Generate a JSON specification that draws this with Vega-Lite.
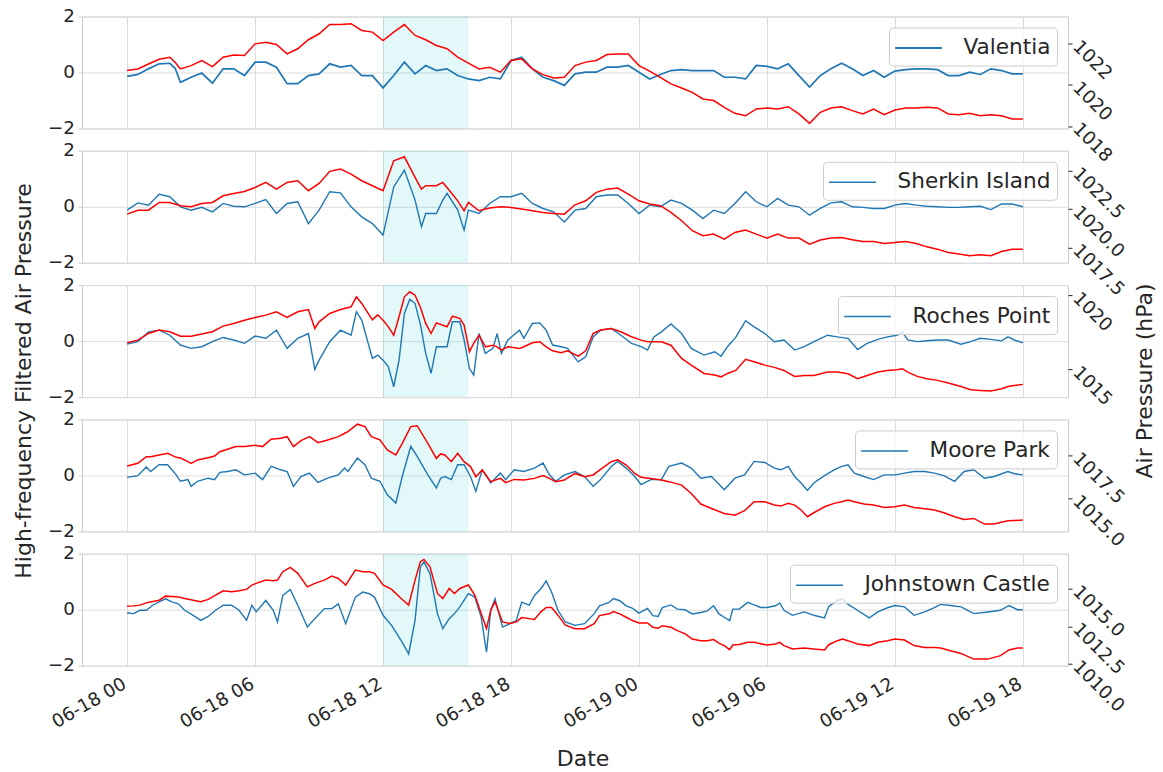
{
"$schema":"https://vega.github.io/schema/vega-lite/v6.json",
"background":"white",
"padding":{"left":11,"top":5.5,"right":5,"bottom":3},
"config":{
 "font":"DejaVu Sans",
 "view":{"stroke":"#cccccc","strokeWidth":1},
 "axis":{"labelFont":"DejaVu Sans","labelFontSize":18.3,"labelColor":"#262626","titleFont":"DejaVu Sans","titleFontSize":22,"titleColor":"#262626","titleFontWeight":"normal","gridColor":"#dddddd","gridWidth":1,"domain":false},
 "axisLeft":{"ticks":true,"tickSize":4,"tickColor":"#cccccc","tickWidth":1,"labelPadding":3.5,"grid":true,"labelOverlap":false},
 "axisRight":{"labelAngle":45,"labelAlign":"left","labelBaseline":"middle","ticks":true,"tickSize":4,"tickColor":"#262626","tickWidth":1,"labelPadding":3,"grid":true,"labelOverlap":false,"labelFlush":false},
 "axisBottom":{"grid":true,"ticks":false,"labelAngle":-30,"labelAlign":"right","labelBaseline":"top","labelPadding":9,"labelOffset":-7,"labelFlush":false,"labelOverlap":false},
 "legend":{"orient":"top-right","offset":11,"padding":6.5,"fillColor":"rgba(255,255,255,0.8)","strokeColor":"#cccccc","cornerRadius":4,"symbolType":"M-1.8,0H1.8","symbolSize":676,"symbolOffset":9,"symbolStrokeWidth":1.5,"labelFontSize":21.6,"labelColor":"#262626","labelFont":"DejaVu Sans","labelOffset":31,"labelLimit":400}
},
"datasets":{
"V":[
{"t":"2023-06-18T00:00Z","b":-0.14,"r":1020.70},{"t":"2023-06-18T00:30Z","b":-0.07,"r":1020.78},{"t":"2023-06-18T01:00Z","b":0.13,"r":1021.02},{"t":"2023-06-18T01:30Z","b":0.31,"r":1021.25},{"t":"2023-06-18T02:00Z","b":0.33,"r":1021.35},{"t":"2023-06-18T02:15Z","b":0.15,"r":1021.10},{"t":"2023-06-18T02:30Z","b":-0.35,"r":1020.78},{"t":"2023-06-18T03:00Z","b":-0.17,"r":1020.94},{"t":"2023-06-18T03:30Z","b":-0.02,"r":1021.19},{"t":"2023-06-18T04:00Z","b":-0.38,"r":1020.89},{"t":"2023-06-18T04:30Z","b":0.13,"r":1021.35},{"t":"2023-06-18T05:00Z","b":0.13,"r":1021.46},{"t":"2023-06-18T05:30Z","b":-0.11,"r":1021.43},{"t":"2023-06-18T06:00Z","b":0.37,"r":1022.00},{"t":"2023-06-18T06:30Z","b":0.37,"r":1022.08},{"t":"2023-06-18T07:00Z","b":0.19,"r":1021.97},{"t":"2023-06-18T07:30Z","b":-0.40,"r":1021.51},{"t":"2023-06-18T08:00Z","b":-0.40,"r":1021.76},{"t":"2023-06-18T08:30Z","b":-0.11,"r":1022.20},{"t":"2023-06-18T09:00Z","b":-0.05,"r":1022.49},{"t":"2023-06-18T09:30Z","b":0.31,"r":1022.94},{"t":"2023-06-18T10:00Z","b":0.19,"r":1022.94},{"t":"2023-06-18T10:30Z","b":0.25,"r":1022.98},{"t":"2023-06-18T11:00Z","b":-0.11,"r":1022.65},{"t":"2023-06-18T11:30Z","b":-0.11,"r":1022.57},{"t":"2023-06-18T12:00Z","b":-0.55,"r":1022.16},{"t":"2023-06-18T12:30Z","b":-0.11,"r":1022.57},{"t":"2023-06-18T13:00Z","b":0.37,"r":1022.94},{"t":"2023-06-18T13:30Z","b":-0.05,"r":1022.41},{"t":"2023-06-18T14:00Z","b":0.25,"r":1022.20},{"t":"2023-06-18T14:30Z","b":0.07,"r":1021.92},{"t":"2023-06-18T15:00Z","b":0.13,"r":1021.76},{"t":"2023-06-18T15:30Z","b":-0.11,"r":1021.35},{"t":"2023-06-18T16:00Z","b":-0.23,"r":1021.06},{"t":"2023-06-18T16:30Z","b":-0.29,"r":1020.78},{"t":"2023-06-18T17:00Z","b":-0.17,"r":1020.86},{"t":"2023-06-18T17:30Z","b":-0.23,"r":1020.62},{"t":"2023-06-18T18:00Z","b":0.43,"r":1021.19},{"t":"2023-06-18T18:30Z","b":0.55,"r":1021.27},{"t":"2023-06-18T19:00Z","b":0.13,"r":1020.78},{"t":"2023-06-18T19:30Z","b":-0.17,"r":1020.50},{"t":"2023-06-18T20:00Z","b":-0.29,"r":1020.34},{"t":"2023-06-18T20:30Z","b":-0.46,"r":1020.37},{"t":"2023-06-18T21:00Z","b":-0.05,"r":1020.94},{"t":"2023-06-18T21:30Z","b":0.01,"r":1021.11},{"t":"2023-06-18T22:00Z","b":0.01,"r":1021.19},{"t":"2023-06-18T22:30Z","b":0.19,"r":1021.48},{"t":"2023-06-18T23:00Z","b":0.19,"r":1021.51},{"t":"2023-06-18T23:30Z","b":0.25,"r":1021.51},
{"t":"2023-06-19T00:00Z","b":0.01,"r":1020.94},{"t":"2023-06-19T00:30Z","b":-0.23,"r":1020.67},{"t":"2023-06-19T01:00Z","b":-0.07,"r":1020.37},{"t":"2023-06-19T01:30Z","b":0.07,"r":1020.05},{"t":"2023-06-19T02:00Z","b":0.10,"r":1019.85},{"t":"2023-06-19T02:30Z","b":0.07,"r":1019.64},{"t":"2023-06-19T03:00Z","b":0.07,"r":1019.32},{"t":"2023-06-19T03:30Z","b":0.07,"r":1019.24},{"t":"2023-06-19T04:00Z","b":-0.17,"r":1018.91},{"t":"2023-06-19T04:30Z","b":-0.17,"r":1018.62},{"t":"2023-06-19T05:00Z","b":-0.23,"r":1018.50},{"t":"2023-06-19T05:30Z","b":0.25,"r":1018.83},{"t":"2023-06-19T06:00Z","b":0.22,"r":1018.88},{"t":"2023-06-19T06:30Z","b":0.13,"r":1018.83},{"t":"2023-06-19T07:00Z","b":0.31,"r":1018.94},{"t":"2023-06-19T07:30Z","b":-0.11,"r":1018.59},{"t":"2023-06-19T08:00Z","b":-0.52,"r":1018.13},{"t":"2023-06-19T08:30Z","b":-0.11,"r":1018.67},{"t":"2023-06-19T09:00Z","b":0.13,"r":1018.88},{"t":"2023-06-19T09:30Z","b":0.33,"r":1018.94},{"t":"2023-06-19T10:00Z","b":0.13,"r":1018.75},{"t":"2023-06-19T10:30Z","b":-0.11,"r":1018.59},{"t":"2023-06-19T11:00Z","b":0.07,"r":1018.83},{"t":"2023-06-19T11:30Z","b":-0.17,"r":1018.55},{"t":"2023-06-19T12:00Z","b":0.05,"r":1018.78},{"t":"2023-06-19T12:30Z","b":0.10,"r":1018.88},{"t":"2023-06-19T13:00Z","b":0.13,"r":1018.88},{"t":"2023-06-19T13:30Z","b":0.13,"r":1018.91},{"t":"2023-06-19T14:00Z","b":0.10,"r":1018.88},{"t":"2023-06-19T14:30Z","b":-0.11,"r":1018.59},{"t":"2023-06-19T15:00Z","b":-0.11,"r":1018.55},{"t":"2023-06-19T15:30Z","b":0.01,"r":1018.62},{"t":"2023-06-19T16:00Z","b":-0.07,"r":1018.50},{"t":"2023-06-19T16:30Z","b":0.13,"r":1018.55},{"t":"2023-06-19T17:00Z","b":0.07,"r":1018.50},{"t":"2023-06-19T17:30Z","b":-0.05,"r":1018.34},{"t":"2023-06-19T18:00Z","b":-0.05,"r":1018.34}],
"S":[
{"t":"2023-06-18T00:00Z","b":-0.12,"r":1019.67},{"t":"2023-06-18T00:30Z","b":0.14,"r":1019.93},{"t":"2023-06-18T01:00Z","b":0.06,"r":1019.93},{"t":"2023-06-18T01:30Z","b":0.45,"r":1020.43},{"t":"2023-06-18T02:00Z","b":0.36,"r":1020.43},{"t":"2023-06-18T02:30Z","b":0.00,"r":1020.22},{"t":"2023-06-18T03:00Z","b":-0.12,"r":1020.15},{"t":"2023-06-18T03:30Z","b":-0.02,"r":1020.37},{"t":"2023-06-18T04:00Z","b":-0.18,"r":1020.43},{"t":"2023-06-18T04:30Z","b":0.12,"r":1020.87},{"t":"2023-06-18T05:00Z","b":0.02,"r":1021.02},{"t":"2023-06-18T05:30Z","b":0.00,"r":1021.15},{"t":"2023-06-18T06:00Z","b":0.12,"r":1021.41},{"t":"2023-06-18T06:30Z","b":0.26,"r":1021.74},{"t":"2023-06-18T07:00Z","b":-0.24,"r":1021.30},{"t":"2023-06-18T07:30Z","b":0.12,"r":1021.74},{"t":"2023-06-18T08:00Z","b":0.18,"r":1021.85},{"t":"2023-06-18T08:30Z","b":-0.60,"r":1021.20},{"t":"2023-06-18T09:00Z","b":-0.12,"r":1021.67},{"t":"2023-06-18T09:30Z","b":0.54,"r":1022.46},{"t":"2023-06-18T10:00Z","b":0.50,"r":1022.61},{"t":"2023-06-18T10:30Z","b":0.00,"r":1022.28},{"t":"2023-06-18T11:00Z","b":-0.36,"r":1021.85},{"t":"2023-06-18T11:30Z","b":-0.60,"r":1021.52},{"t":"2023-06-18T12:00Z","b":-1.01,"r":1021.20},{"t":"2023-06-18T12:30Z","b":0.71,"r":1023.15},{"t":"2023-06-18T13:00Z","b":1.31,"r":1023.41},{"t":"2023-06-18T13:30Z","b":0.24,"r":1022.07},{"t":"2023-06-18T13:48Z","b":-0.71,"r":1021.30},{"t":"2023-06-18T14:00Z","b":-0.24,"r":1021.52},{"t":"2023-06-18T14:30Z","b":-0.24,"r":1021.52},{"t":"2023-06-18T14:48Z","b":0.24,"r":1021.74},{"t":"2023-06-18T15:00Z","b":0.48,"r":1021.41},{"t":"2023-06-18T15:30Z","b":-0.12,"r":1020.54},{"t":"2023-06-18T15:48Z","b":-0.83,"r":1019.89},{"t":"2023-06-18T16:00Z","b":-0.12,"r":1020.43},{"t":"2023-06-18T16:30Z","b":-0.24,"r":1019.89},{"t":"2023-06-18T17:00Z","b":0.12,"r":1020.07},{"t":"2023-06-18T17:30Z","b":0.36,"r":1020.15},{"t":"2023-06-18T18:00Z","b":0.36,"r":1020.11},{"t":"2023-06-18T18:30Z","b":0.48,"r":1020.00},{"t":"2023-06-18T19:00Z","b":0.12,"r":1019.89},{"t":"2023-06-18T19:30Z","b":-0.06,"r":1019.78},{"t":"2023-06-18T20:00Z","b":-0.18,"r":1019.72},{"t":"2023-06-18T20:30Z","b":-0.54,"r":1019.67},{"t":"2023-06-18T21:00Z","b":-0.12,"r":1020.28},{"t":"2023-06-18T21:30Z","b":-0.06,"r":1020.54},{"t":"2023-06-18T22:00Z","b":0.36,"r":1021.09},{"t":"2023-06-18T22:30Z","b":0.42,"r":1021.30},{"t":"2023-06-18T23:00Z","b":0.42,"r":1021.37},{"t":"2023-06-18T23:30Z","b":0.12,"r":1020.98},
{"t":"2023-06-19T00:00Z","b":-0.24,"r":1020.54},{"t":"2023-06-19T00:30Z","b":0.06,"r":1020.33},{"t":"2023-06-19T01:00Z","b":0.00,"r":1020.22},{"t":"2023-06-19T01:30Z","b":0.24,"r":1019.78},{"t":"2023-06-19T02:00Z","b":0.12,"r":1019.24},{"t":"2023-06-19T02:30Z","b":-0.12,"r":1018.59},{"t":"2023-06-19T03:00Z","b":-0.42,"r":1018.26},{"t":"2023-06-19T03:30Z","b":-0.12,"r":1018.37},{"t":"2023-06-19T04:00Z","b":-0.24,"r":1018.04},{"t":"2023-06-19T04:30Z","b":0.12,"r":1018.48},{"t":"2023-06-19T05:00Z","b":0.54,"r":1018.63},{"t":"2023-06-19T05:30Z","b":0.18,"r":1018.37},{"t":"2023-06-19T06:00Z","b":0.00,"r":1018.11},{"t":"2023-06-19T06:30Z","b":0.30,"r":1018.37},{"t":"2023-06-19T07:00Z","b":0.06,"r":1018.11},{"t":"2023-06-19T07:30Z","b":0.00,"r":1018.11},{"t":"2023-06-19T08:00Z","b":-0.30,"r":1017.72},{"t":"2023-06-19T08:30Z","b":-0.06,"r":1017.98},{"t":"2023-06-19T09:00Z","b":0.14,"r":1018.11},{"t":"2023-06-19T09:30Z","b":0.18,"r":1018.15},{"t":"2023-06-19T10:00Z","b":0.00,"r":1018.00},{"t":"2023-06-19T10:30Z","b":-0.02,"r":1017.89},{"t":"2023-06-19T11:00Z","b":-0.06,"r":1017.89},{"t":"2023-06-19T11:30Z","b":-0.06,"r":1017.76},{"t":"2023-06-19T12:00Z","b":0.06,"r":1017.83},{"t":"2023-06-19T12:30Z","b":0.12,"r":1017.89},{"t":"2023-06-19T13:00Z","b":0.06,"r":1017.76},{"t":"2023-06-19T13:30Z","b":0.02,"r":1017.54},{"t":"2023-06-19T14:00Z","b":0.00,"r":1017.39},{"t":"2023-06-19T14:30Z","b":-0.02,"r":1017.17},{"t":"2023-06-19T15:00Z","b":-0.02,"r":1017.07},{"t":"2023-06-19T15:30Z","b":0.00,"r":1016.96},{"t":"2023-06-19T16:00Z","b":0.02,"r":1017.02},{"t":"2023-06-19T16:30Z","b":-0.10,"r":1016.96},{"t":"2023-06-19T17:00Z","b":0.10,"r":1017.24},{"t":"2023-06-19T17:30Z","b":0.10,"r":1017.39},{"t":"2023-06-19T18:00Z","b":0.00,"r":1017.39}],
"R":[
{"t":"2023-06-18T00:00Z","b":-0.11,"r":1016.80},{"t":"2023-06-18T00:30Z","b":-0.02,"r":1016.98},{"t":"2023-06-18T01:00Z","b":0.33,"r":1017.43},{"t":"2023-06-18T01:30Z","b":0.39,"r":1017.66},{"t":"2023-06-18T02:00Z","b":0.21,"r":1017.55},{"t":"2023-06-18T02:30Z","b":-0.14,"r":1017.25},{"t":"2023-06-18T03:00Z","b":-0.26,"r":1017.25},{"t":"2023-06-18T03:30Z","b":-0.20,"r":1017.39},{"t":"2023-06-18T04:00Z","b":-0.02,"r":1017.55},{"t":"2023-06-18T04:30Z","b":0.13,"r":1017.93},{"t":"2023-06-18T05:00Z","b":0.04,"r":1018.11},{"t":"2023-06-18T05:30Z","b":-0.08,"r":1018.33},{"t":"2023-06-18T06:00Z","b":0.18,"r":1018.51},{"t":"2023-06-18T06:30Z","b":0.10,"r":1018.67},{"t":"2023-06-18T07:00Z","b":0.39,"r":1018.90},{"t":"2023-06-18T07:30Z","b":-0.26,"r":1018.51},{"t":"2023-06-18T08:00Z","b":0.10,"r":1018.90},{"t":"2023-06-18T08:30Z","b":0.27,"r":1019.05},{"t":"2023-06-18T08:48Z","b":-1.01,"r":1017.77},{"t":"2023-06-18T09:00Z","b":-0.68,"r":1018.22},{"t":"2023-06-18T09:30Z","b":-0.02,"r":1018.78},{"t":"2023-06-18T10:00Z","b":0.39,"r":1019.05},{"t":"2023-06-18T10:30Z","b":0.21,"r":1019.23},{"t":"2023-06-18T10:45Z","b":1.05,"r":1019.91},{"t":"2023-06-18T11:00Z","b":0.75,"r":1019.46},{"t":"2023-06-18T11:30Z","b":-0.62,"r":1018.35},{"t":"2023-06-18T11:45Z","b":-0.50,"r":1018.69},{"t":"2023-06-18T12:00Z","b":-0.68,"r":1018.33},{"t":"2023-06-18T12:15Z","b":-0.92,"r":1017.88},{"t":"2023-06-18T12:30Z","b":-1.63,"r":1017.32},{"t":"2023-06-18T12:45Z","b":-0.68,"r":1018.56},{"t":"2023-06-18T13:00Z","b":0.99,"r":1019.91},{"t":"2023-06-18T13:15Z","b":1.49,"r":1020.25},{"t":"2023-06-18T13:30Z","b":1.35,"r":1020.02},{"t":"2023-06-18T13:45Z","b":0.60,"r":1019.20},{"t":"2023-06-18T14:00Z","b":-0.44,"r":1018.11},{"t":"2023-06-18T14:15Z","b":-1.15,"r":1017.43},{"t":"2023-06-18T14:30Z","b":-0.20,"r":1018.15},{"t":"2023-06-18T15:00Z","b":-0.20,"r":1017.88},{"t":"2023-06-18T15:15Z","b":0.69,"r":1018.60},{"t":"2023-06-18T15:36Z","b":0.69,"r":1018.45},{"t":"2023-06-18T15:48Z","b":0.04,"r":1018.00},{"t":"2023-06-18T16:03Z","b":-0.98,"r":1016.19},{"t":"2023-06-18T16:15Z","b":-1.21,"r":1016.76},{"t":"2023-06-18T16:30Z","b":0.27,"r":1017.32},{"t":"2023-06-18T16:48Z","b":-0.44,"r":1016.53},{"t":"2023-06-18T17:09Z","b":-0.26,"r":1016.64},{"t":"2023-06-18T17:21Z","b":0.27,"r":1016.53},{"t":"2023-06-18T17:33Z","b":-0.44,"r":1016.31},{"t":"2023-06-18T17:51Z","b":0.04,"r":1016.53},{"t":"2023-06-18T18:24Z","b":0.39,"r":1016.42},{"t":"2023-06-18T18:36Z","b":0.10,"r":1016.53},{"t":"2023-06-18T19:00Z","b":0.63,"r":1016.80},{"t":"2023-06-18T19:21Z","b":0.65,"r":1016.87},{"t":"2023-06-18T19:39Z","b":0.39,"r":1016.53},{"t":"2023-06-18T19:57Z","b":-0.14,"r":1016.26},{"t":"2023-06-18T20:21Z","b":-0.20,"r":1016.13},{"t":"2023-06-18T20:39Z","b":-0.26,"r":1016.26},{"t":"2023-06-18T21:09Z","b":-0.74,"r":1015.90},{"t":"2023-06-18T21:30Z","b":-0.56,"r":1016.26},{"t":"2023-06-18T21:51Z","b":0.15,"r":1017.43},{"t":"2023-06-18T22:12Z","b":0.39,"r":1017.66},{"t":"2023-06-18T22:42Z","b":0.45,"r":1017.77},{"t":"2023-06-18T23:09Z","b":0.21,"r":1017.55},{"t":"2023-06-18T23:39Z","b":-0.08,"r":1017.21},
{"t":"2023-06-19T00:06Z","b":-0.20,"r":1016.98},{"t":"2023-06-19T00:24Z","b":-0.32,"r":1016.87},{"t":"2023-06-19T00:42Z","b":0.15,"r":1016.87},{"t":"2023-06-19T01:03Z","b":0.33,"r":1016.87},{"t":"2023-06-19T01:30Z","b":0.61,"r":1016.64},{"t":"2023-06-19T02:00Z","b":0.27,"r":1015.74},{"t":"2023-06-19T02:27Z","b":-0.26,"r":1015.29},{"t":"2023-06-19T03:03Z","b":-0.50,"r":1014.73},{"t":"2023-06-19T03:33Z","b":-0.38,"r":1014.62},{"t":"2023-06-19T03:51Z","b":-0.54,"r":1014.50},{"t":"2023-06-19T04:09Z","b":-0.20,"r":1014.73},{"t":"2023-06-19T04:33Z","b":0.15,"r":1014.95},{"t":"2023-06-19T05:00Z","b":0.73,"r":1015.68},{"t":"2023-06-19T05:24Z","b":0.51,"r":1015.52},{"t":"2023-06-19T05:54Z","b":0.27,"r":1015.29},{"t":"2023-06-19T06:21Z","b":-0.02,"r":1015.14},{"t":"2023-06-19T06:48Z","b":0.04,"r":1014.93},{"t":"2023-06-19T07:18Z","b":-0.32,"r":1014.53},{"t":"2023-06-19T07:45Z","b":-0.20,"r":1014.59},{"t":"2023-06-19T08:12Z","b":-0.02,"r":1014.59},{"t":"2023-06-19T08:51Z","b":0.21,"r":1014.82},{"t":"2023-06-19T09:18Z","b":0.15,"r":1014.82},{"t":"2023-06-19T09:48Z","b":0.10,"r":1014.71},{"t":"2023-06-19T10:15Z","b":-0.30,"r":1014.37},{"t":"2023-06-19T10:42Z","b":-0.08,"r":1014.59},{"t":"2023-06-19T11:12Z","b":0.06,"r":1014.82},{"t":"2023-06-19T11:39Z","b":0.15,"r":1014.93},{"t":"2023-06-19T12:06Z","b":0.21,"r":1014.98},{"t":"2023-06-19T12:21Z","b":0.33,"r":1015.05},{"t":"2023-06-19T12:36Z","b":0.04,"r":1014.82},{"t":"2023-06-19T13:03Z","b":-0.02,"r":1014.53},{"t":"2023-06-19T13:30Z","b":0.01,"r":1014.37},{"t":"2023-06-19T14:00Z","b":0.04,"r":1014.26},{"t":"2023-06-19T14:30Z","b":0.04,"r":1014.08},{"t":"2023-06-19T15:06Z","b":-0.11,"r":1013.85},{"t":"2023-06-19T15:33Z","b":-0.02,"r":1013.63},{"t":"2023-06-19T16:00Z","b":0.10,"r":1013.58},{"t":"2023-06-19T16:30Z","b":0.06,"r":1013.54},{"t":"2023-06-19T17:00Z","b":0.01,"r":1013.69},{"t":"2023-06-19T17:18Z","b":0.15,"r":1013.85},{"t":"2023-06-19T17:36Z","b":0.04,"r":1013.92},{"t":"2023-06-19T18:00Z","b":-0.06,"r":1013.99}],
"M":[
{"t":"2023-06-18T00:00Z","b":-0.07,"r":1016.89},{"t":"2023-06-18T00:30Z","b":-0.01,"r":1017.05},{"t":"2023-06-18T00:54Z","b":0.30,"r":1017.44},{"t":"2023-06-18T01:06Z","b":0.14,"r":1017.44},{"t":"2023-06-18T01:30Z","b":0.38,"r":1017.54},{"t":"2023-06-18T01:54Z","b":0.38,"r":1017.64},{"t":"2023-06-18T02:18Z","b":0.02,"r":1017.40},{"t":"2023-06-18T02:30Z","b":-0.21,"r":1017.36},{"t":"2023-06-18T02:51Z","b":-0.15,"r":1017.15},{"t":"2023-06-18T03:00Z","b":-0.39,"r":1017.05},{"t":"2023-06-18T03:18Z","b":-0.21,"r":1017.25},{"t":"2023-06-18T03:48Z","b":-0.10,"r":1017.38},{"t":"2023-06-18T04:06Z","b":-0.15,"r":1017.48},{"t":"2023-06-18T04:21Z","b":0.11,"r":1017.73},{"t":"2023-06-18T04:42Z","b":0.14,"r":1017.87},{"t":"2023-06-18T05:06Z","b":0.20,"r":1018.03},{"t":"2023-06-18T05:30Z","b":0.02,"r":1018.03},{"t":"2023-06-18T06:00Z","b":0.08,"r":1018.11},{"t":"2023-06-18T06:21Z","b":-0.15,"r":1018.03},{"t":"2023-06-18T06:45Z","b":0.32,"r":1018.46},{"t":"2023-06-18T07:12Z","b":0.20,"r":1018.52},{"t":"2023-06-18T07:30Z","b":0.14,"r":1018.61},{"t":"2023-06-18T07:48Z","b":-0.39,"r":1018.03},{"t":"2023-06-18T08:09Z","b":-0.04,"r":1018.38},{"t":"2023-06-18T08:33Z","b":0.08,"r":1018.61},{"t":"2023-06-18T08:57Z","b":-0.25,"r":1018.26},{"t":"2023-06-18T09:24Z","b":-0.10,"r":1018.42},{"t":"2023-06-18T09:54Z","b":0.02,"r":1018.61},{"t":"2023-06-18T10:12Z","b":0.26,"r":1018.81},{"t":"2023-06-18T10:21Z","b":0.14,"r":1018.91},{"t":"2023-06-18T10:48Z","b":0.62,"r":1019.34},{"t":"2023-06-18T11:09Z","b":0.38,"r":1019.20},{"t":"2023-06-18T11:27Z","b":-0.10,"r":1018.61},{"t":"2023-06-18T11:51Z","b":-0.21,"r":1018.42},{"t":"2023-06-18T12:12Z","b":-0.69,"r":1017.83},{"t":"2023-06-18T12:36Z","b":-0.99,"r":1017.54},{"t":"2023-06-18T12:54Z","b":-0.04,"r":1018.22},{"t":"2023-06-18T13:18Z","b":1.04,"r":1019.20},{"t":"2023-06-18T13:36Z","b":0.68,"r":1019.25},{"t":"2023-06-18T14:06Z","b":0.02,"r":1018.22},{"t":"2023-06-18T14:30Z","b":-0.45,"r":1017.34},{"t":"2023-06-18T14:42Z","b":-0.10,"r":1017.60},{"t":"2023-06-18T14:54Z","b":-0.04,"r":1017.54},{"t":"2023-06-18T15:12Z","b":-0.15,"r":1017.15},{"t":"2023-06-18T15:30Z","b":0.38,"r":1017.64},{"t":"2023-06-18T15:48Z","b":0.38,"r":1017.15},{"t":"2023-06-18T16:06Z","b":-0.04,"r":1016.86},{"t":"2023-06-18T16:21Z","b":-0.57,"r":1016.27},{"t":"2023-06-18T16:39Z","b":0.20,"r":1016.66},{"t":"2023-06-18T17:03Z","b":-0.27,"r":1015.98},{"t":"2023-06-18T17:30Z","b":0.08,"r":1016.17},{"t":"2023-06-18T17:45Z","b":-0.15,"r":1015.92},{"t":"2023-06-18T18:09Z","b":0.20,"r":1016.11},{"t":"2023-06-18T18:36Z","b":0.14,"r":1016.07},{"t":"2023-06-18T19:06Z","b":0.26,"r":1016.17},{"t":"2023-06-18T19:30Z","b":0.44,"r":1016.33},{"t":"2023-06-18T19:48Z","b":0.02,"r":1016.17},{"t":"2023-06-18T20:06Z","b":-0.21,"r":1015.98},{"t":"2023-06-18T20:30Z","b":0.02,"r":1016.07},{"t":"2023-06-18T21:00Z","b":0.14,"r":1016.46},{"t":"2023-06-18T21:27Z","b":-0.04,"r":1016.27},{"t":"2023-06-18T21:51Z","b":-0.39,"r":1016.37},{"t":"2023-06-18T22:12Z","b":-0.15,"r":1016.70},{"t":"2023-06-18T22:42Z","b":0.32,"r":1017.15},{"t":"2023-06-18T23:00Z","b":0.50,"r":1017.25},{"t":"2023-06-18T23:24Z","b":0.26,"r":1016.95},{"t":"2023-06-18T23:48Z","b":-0.04,"r":1016.46},
{"t":"2023-06-19T00:06Z","b":-0.33,"r":1016.23},{"t":"2023-06-19T00:33Z","b":-0.15,"r":1016.17},{"t":"2023-06-19T01:03Z","b":-0.15,"r":1016.07},{"t":"2023-06-19T01:24Z","b":0.32,"r":1015.98},{"t":"2023-06-19T02:00Z","b":0.44,"r":1015.78},{"t":"2023-06-19T02:27Z","b":0.26,"r":1015.29},{"t":"2023-06-19T02:54Z","b":-0.10,"r":1014.67},{"t":"2023-06-19T03:24Z","b":-0.04,"r":1014.41},{"t":"2023-06-19T04:00Z","b":-0.51,"r":1014.12},{"t":"2023-06-19T04:30Z","b":-0.10,"r":1014.02},{"t":"2023-06-19T04:57Z","b":0.02,"r":1014.28},{"t":"2023-06-19T05:24Z","b":0.50,"r":1014.80},{"t":"2023-06-19T05:54Z","b":0.46,"r":1014.80},{"t":"2023-06-19T06:21Z","b":0.26,"r":1014.61},{"t":"2023-06-19T06:39Z","b":0.20,"r":1014.55},{"t":"2023-06-19T07:00Z","b":0.32,"r":1014.71},{"t":"2023-06-19T07:18Z","b":-0.04,"r":1014.61},{"t":"2023-06-19T07:36Z","b":-0.27,"r":1014.32},{"t":"2023-06-19T07:54Z","b":-0.54,"r":1013.93},{"t":"2023-06-19T08:12Z","b":-0.27,"r":1014.16},{"t":"2023-06-19T08:42Z","b":-0.01,"r":1014.51},{"t":"2023-06-19T09:09Z","b":0.20,"r":1014.71},{"t":"2023-06-19T09:30Z","b":0.32,"r":1014.80},{"t":"2023-06-19T09:48Z","b":0.38,"r":1014.90},{"t":"2023-06-19T10:06Z","b":0.08,"r":1014.80},{"t":"2023-06-19T10:33Z","b":-0.04,"r":1014.67},{"t":"2023-06-19T11:00Z","b":-0.15,"r":1014.61},{"t":"2023-06-19T11:30Z","b":0.02,"r":1014.47},{"t":"2023-06-19T12:00Z","b":0.02,"r":1014.51},{"t":"2023-06-19T12:27Z","b":0.08,"r":1014.61},{"t":"2023-06-19T12:54Z","b":0.14,"r":1014.47},{"t":"2023-06-19T13:24Z","b":0.14,"r":1014.39},{"t":"2023-06-19T13:51Z","b":0.08,"r":1014.32},{"t":"2023-06-19T14:18Z","b":-0.01,"r":1014.16},{"t":"2023-06-19T14:48Z","b":-0.21,"r":1013.93},{"t":"2023-06-19T15:15Z","b":0.14,"r":1013.77},{"t":"2023-06-19T15:42Z","b":0.20,"r":1013.83},{"t":"2023-06-19T16:12Z","b":-0.10,"r":1013.50},{"t":"2023-06-19T16:39Z","b":-0.04,"r":1013.50},{"t":"2023-06-19T17:18Z","b":0.14,"r":1013.69},{"t":"2023-06-19T17:36Z","b":0.06,"r":1013.71},{"t":"2023-06-19T18:00Z","b":0.02,"r":1013.73}],
"J":[
{"t":"2023-06-18T00:00Z","b":-0.12,"r":1013.84},{"t":"2023-06-18T00:18Z","b":-0.14,"r":1013.86},{"t":"2023-06-18T00:36Z","b":-0.02,"r":1013.91},{"t":"2023-06-18T00:54Z","b":-0.02,"r":1014.06},{"t":"2023-06-18T01:12Z","b":0.16,"r":1014.15},{"t":"2023-06-18T01:30Z","b":0.28,"r":1014.24},{"t":"2023-06-18T01:48Z","b":0.39,"r":1014.51},{"t":"2023-06-18T02:06Z","b":0.28,"r":1014.49},{"t":"2023-06-18T02:24Z","b":0.21,"r":1014.46},{"t":"2023-06-18T02:42Z","b":-0.02,"r":1014.35},{"t":"2023-06-18T03:06Z","b":-0.20,"r":1014.24},{"t":"2023-06-18T03:27Z","b":-0.38,"r":1014.13},{"t":"2023-06-18T03:48Z","b":-0.24,"r":1014.29},{"t":"2023-06-18T04:09Z","b":-0.02,"r":1014.58},{"t":"2023-06-18T04:30Z","b":0.16,"r":1014.87},{"t":"2023-06-18T04:54Z","b":0.16,"r":1014.80},{"t":"2023-06-18T05:15Z","b":-0.02,"r":1014.87},{"t":"2023-06-18T05:36Z","b":-0.38,"r":1014.96},{"t":"2023-06-18T05:51Z","b":0.16,"r":1015.25},{"t":"2023-06-18T06:03Z","b":-0.08,"r":1015.36},{"t":"2023-06-18T06:30Z","b":0.33,"r":1015.58},{"t":"2023-06-18T06:51Z","b":-0.02,"r":1015.54},{"t":"2023-06-18T07:03Z","b":-0.44,"r":1015.58},{"t":"2023-06-18T07:18Z","b":0.51,"r":1016.14},{"t":"2023-06-18T07:39Z","b":0.72,"r":1016.43},{"t":"2023-06-18T08:00Z","b":0.16,"r":1016.03},{"t":"2023-06-18T08:27Z","b":-0.62,"r":1015.13},{"t":"2023-06-18T08:48Z","b":-0.32,"r":1015.36},{"t":"2023-06-18T09:15Z","b":0.04,"r":1015.58},{"t":"2023-06-18T09:36Z","b":0.04,"r":1015.85},{"t":"2023-06-18T09:54Z","b":0.21,"r":1015.69},{"t":"2023-06-18T10:15Z","b":-0.50,"r":1015.25},{"t":"2023-06-18T10:42Z","b":0.45,"r":1016.25},{"t":"2023-06-18T11:03Z","b":0.63,"r":1016.14},{"t":"2023-06-18T11:21Z","b":0.57,"r":1016.14},{"t":"2023-06-18T11:36Z","b":0.45,"r":1016.03},{"t":"2023-06-18T12:00Z","b":-0.20,"r":1015.25},{"t":"2023-06-18T12:24Z","b":-0.56,"r":1014.96},{"t":"2023-06-18T12:51Z","b":-1.10,"r":1014.35},{"t":"2023-06-18T13:12Z","b":-1.58,"r":1013.91},{"t":"2023-06-18T13:30Z","b":-0.38,"r":1015.58},{"t":"2023-06-18T13:45Z","b":1.53,"r":1016.81},{"t":"2023-06-18T13:55Z","b":1.71,"r":1016.96},{"t":"2023-06-18T14:12Z","b":1.29,"r":1016.47},{"t":"2023-06-18T14:33Z","b":-0.14,"r":1014.69},{"t":"2023-06-18T14:48Z","b":-0.68,"r":1014.35},{"t":"2023-06-18T15:06Z","b":-0.32,"r":1015.02},{"t":"2023-06-18T15:21Z","b":-0.14,"r":1014.69},{"t":"2023-06-18T15:36Z","b":0.10,"r":1015.02},{"t":"2023-06-18T16:00Z","b":0.57,"r":1015.25},{"t":"2023-06-18T16:18Z","b":0.45,"r":1014.58},{"t":"2023-06-18T16:36Z","b":-0.26,"r":1013.35},{"t":"2023-06-18T16:51Z","b":-1.52,"r":1012.34},{"t":"2023-06-18T17:03Z","b":-0.02,"r":1013.57},{"t":"2023-06-18T17:15Z","b":0.39,"r":1014.13},{"t":"2023-06-18T17:36Z","b":-0.62,"r":1012.79},{"t":"2023-06-18T17:57Z","b":-0.50,"r":1012.68},{"t":"2023-06-18T18:15Z","b":-0.38,"r":1012.79},{"t":"2023-06-18T18:30Z","b":0.27,"r":1013.08},{"t":"2023-06-18T18:51Z","b":0.16,"r":1013.01},{"t":"2023-06-18T19:06Z","b":0.51,"r":1012.95},{"t":"2023-06-18T19:24Z","b":0.75,"r":1013.46},{"t":"2023-06-18T19:39Z","b":1.03,"r":1013.75},{"t":"2023-06-18T19:54Z","b":0.63,"r":1013.75},{"t":"2023-06-18T20:12Z","b":-0.02,"r":1013.24},{"t":"2023-06-18T20:33Z","b":-0.44,"r":1012.57},{"t":"2023-06-18T21:00Z","b":-0.56,"r":1012.34},{"t":"2023-06-18T21:27Z","b":-0.50,"r":1012.34},{"t":"2023-06-18T21:54Z","b":-0.14,"r":1012.68},{"t":"2023-06-18T22:09Z","b":0.14,"r":1013.21},{"t":"2023-06-18T22:36Z","b":0.26,"r":1013.33},{"t":"2023-06-18T22:48Z","b":0.40,"r":1013.48},{"t":"2023-06-18T23:06Z","b":0.32,"r":1013.33},{"t":"2023-06-18T23:24Z","b":0.14,"r":1013.10},{"t":"2023-06-18T23:42Z","b":0.05,"r":1012.88},
{"t":"2023-06-19T00:00Z","b":-0.12,"r":1012.72},{"t":"2023-06-19T00:24Z","b":0.05,"r":1012.72},{"t":"2023-06-19T00:39Z","b":-0.21,"r":1012.43},{"t":"2023-06-19T00:54Z","b":-0.24,"r":1012.37},{"t":"2023-06-19T01:06Z","b":0.08,"r":1012.54},{"t":"2023-06-19T01:30Z","b":0.17,"r":1012.43},{"t":"2023-06-19T01:48Z","b":0.02,"r":1012.21},{"t":"2023-06-19T02:09Z","b":0.00,"r":1012.01},{"t":"2023-06-19T02:30Z","b":-0.15,"r":1011.65},{"t":"2023-06-19T02:54Z","b":-0.10,"r":1011.54},{"t":"2023-06-19T03:12Z","b":-0.04,"r":1011.54},{"t":"2023-06-19T03:30Z","b":0.14,"r":1011.61},{"t":"2023-06-19T03:45Z","b":-0.15,"r":1011.38},{"t":"2023-06-19T04:00Z","b":-0.27,"r":1011.21},{"t":"2023-06-19T04:15Z","b":-0.39,"r":1010.94},{"t":"2023-06-19T04:24Z","b":0.02,"r":1011.25},{"t":"2023-06-19T04:42Z","b":0.02,"r":1011.29},{"t":"2023-06-19T05:06Z","b":0.26,"r":1011.43},{"t":"2023-06-19T05:24Z","b":0.17,"r":1011.43},{"t":"2023-06-19T05:42Z","b":0.08,"r":1011.34},{"t":"2023-06-19T06:00Z","b":0.08,"r":1011.25},{"t":"2023-06-19T06:24Z","b":0.14,"r":1011.32},{"t":"2023-06-19T06:36Z","b":0.24,"r":1011.43},{"t":"2023-06-19T06:48Z","b":-0.02,"r":1011.21},{"t":"2023-06-19T07:12Z","b":-0.20,"r":1010.98},{"t":"2023-06-19T07:45Z","b":-0.08,"r":1011.05},{"t":"2023-06-19T08:12Z","b":-0.20,"r":1010.98},{"t":"2023-06-19T08:42Z","b":-0.29,"r":1010.92},{"t":"2023-06-19T08:54Z","b":0.12,"r":1011.27},{"t":"2023-06-19T09:18Z","b":0.33,"r":1011.54},{"t":"2023-06-19T09:33Z","b":0.39,"r":1011.65},{"t":"2023-06-19T09:48Z","b":0.19,"r":1011.54},{"t":"2023-06-19T10:15Z","b":-0.02,"r":1011.32},{"t":"2023-06-19T10:48Z","b":-0.29,"r":1011.21},{"t":"2023-06-19T11:12Z","b":-0.08,"r":1011.43},{"t":"2023-06-19T11:39Z","b":0.07,"r":1011.54},{"t":"2023-06-19T12:00Z","b":0.15,"r":1011.65},{"t":"2023-06-19T12:27Z","b":0.10,"r":1011.58},{"t":"2023-06-19T12:54Z","b":-0.20,"r":1011.21},{"t":"2023-06-19T13:24Z","b":-0.08,"r":1011.09},{"t":"2023-06-19T13:51Z","b":0.07,"r":1011.09},{"t":"2023-06-19T14:09Z","b":0.19,"r":1011.05},{"t":"2023-06-19T14:36Z","b":0.15,"r":1010.87},{"t":"2023-06-19T15:06Z","b":0.10,"r":1010.69},{"t":"2023-06-19T15:42Z","b":-0.14,"r":1010.31},{"t":"2023-06-19T16:21Z","b":-0.08,"r":1010.31},{"t":"2023-06-19T16:57Z","b":-0.02,"r":1010.54},{"t":"2023-06-19T17:21Z","b":0.15,"r":1010.92},{"t":"2023-06-19T17:45Z","b":0.00,"r":1011.05},{"t":"2023-06-19T18:00Z","b":0.00,"r":1011.05}],
"shade":[{"t":"2023-06-18T12:00Z","t2":"2023-06-18T16:00Z"}]
},
"spacing":22.3,
"bounds":"flush",
"resolve":{"scale":{"y":"independent","color":"independent"},"legend":{"color":"independent"}},
"vconcat":[
{"width":986,"height":112,
 "encoding":{"x":{"field":"t","type":"temporal","scale":{"type":"utc","domain":[{"year":2023,"month":6,"date":17,"hours":21,"minutes":53,"utc":true},{"year":2023,"month":6,"date":19,"hours":20,"minutes":7,"utc":true}]},"axis":{"labels":false,"title":null,"values":[{"year":2023,"month":6,"date":18,"hours":0,"utc":true},{"year":2023,"month":6,"date":18,"hours":6,"utc":true},{"year":2023,"month":6,"date":18,"hours":12,"utc":true},{"year":2023,"month":6,"date":18,"hours":18,"utc":true},{"year":2023,"month":6,"date":19,"hours":0,"utc":true},{"year":2023,"month":6,"date":19,"hours":6,"utc":true},{"year":2023,"month":6,"date":19,"hours":12,"utc":true},{"year":2023,"month":6,"date":19,"hours":18,"utc":true}]}}},
 "layer":[
  {"data":{"name":"shade"},"mark":{"type":"rect","color":"#00bfbf","opacity":0.11},"encoding":{"x2":{"field":"t2"}}},
  {"data":{"name":"V"},"mark":{"type":"line","strokeWidth":1.7},"encoding":{"y":{"field":"b","type":"quantitative","scale":{"domain":[-2,2],"nice":false,"zero":false},"axis":{"orient":"left","values":[-2,0,2],"format":"d","title":null}},"color":{"datum":"Valentia","type":"nominal","scale":{"range":["#1f77b4"]},"legend":{"title":null,"symbolStrokeWidth":1.8}}}},
  {"data":{"name":"V"},"mark":{"type":"line","color":"#ff0000","strokeWidth":1.5},"encoding":{"y":{"field":"r","type":"quantitative","scale":{"domain":[1017.88,1023.33],"nice":false,"zero":false},"axis":{"orient":"right","values":[1018,1020,1022],"format":"d","title":null}}}}
 ],
 "resolve":{"scale":{"y":"independent"}}},
{"width":986,"height":112,
 "encoding":{"x":{"field":"t","type":"temporal","scale":{"type":"utc","domain":[{"year":2023,"month":6,"date":17,"hours":21,"minutes":53,"utc":true},{"year":2023,"month":6,"date":19,"hours":20,"minutes":7,"utc":true}]},"axis":{"labels":false,"title":null,"values":[{"year":2023,"month":6,"date":18,"hours":0,"utc":true},{"year":2023,"month":6,"date":18,"hours":6,"utc":true},{"year":2023,"month":6,"date":18,"hours":12,"utc":true},{"year":2023,"month":6,"date":18,"hours":18,"utc":true},{"year":2023,"month":6,"date":19,"hours":0,"utc":true},{"year":2023,"month":6,"date":19,"hours":6,"utc":true},{"year":2023,"month":6,"date":19,"hours":12,"utc":true},{"year":2023,"month":6,"date":19,"hours":18,"utc":true}]}}},
 "layer":[
  {"data":{"name":"shade"},"mark":{"type":"rect","color":"#00bfbf","opacity":0.11},"encoding":{"x2":{"field":"t2"}}},
  {"data":{"name":"S"},"mark":{"type":"line","strokeWidth":1.4},"encoding":{"y":{"field":"b","type":"quantitative","scale":{"domain":[-2,2],"nice":false,"zero":false},"axis":{"orient":"left","values":[-2,0,2],"format":"d","title":null}},"color":{"datum":"Sherkin Island","type":"nominal","scale":{"range":["#1f77b4"]},"legend":{"title":null}}}},
  {"data":{"name":"S"},"mark":{"type":"line","color":"#ff0000","strokeWidth":1.5},"encoding":{"y":{"field":"r","type":"quantitative","scale":{"domain":[1016.5,1023.8],"nice":false,"zero":false},"axis":{"orient":"right","values":[1017.5,1020,1022.5],"format":".1f","title":null}}}}
 ],
 "resolve":{"scale":{"y":"independent"}}},
{"width":986,"height":112,
 "encoding":{"x":{"field":"t","type":"temporal","scale":{"type":"utc","domain":[{"year":2023,"month":6,"date":17,"hours":21,"minutes":53,"utc":true},{"year":2023,"month":6,"date":19,"hours":20,"minutes":7,"utc":true}]},"axis":{"labels":false,"title":null,"values":[{"year":2023,"month":6,"date":18,"hours":0,"utc":true},{"year":2023,"month":6,"date":18,"hours":6,"utc":true},{"year":2023,"month":6,"date":18,"hours":12,"utc":true},{"year":2023,"month":6,"date":18,"hours":18,"utc":true},{"year":2023,"month":6,"date":19,"hours":0,"utc":true},{"year":2023,"month":6,"date":19,"hours":6,"utc":true},{"year":2023,"month":6,"date":19,"hours":12,"utc":true},{"year":2023,"month":6,"date":19,"hours":18,"utc":true}]}}},
 "layer":[
  {"data":{"name":"shade"},"mark":{"type":"rect","color":"#00bfbf","opacity":0.11},"encoding":{"x2":{"field":"t2"}}},
  {"data":{"name":"R"},"mark":{"type":"line","strokeWidth":1.4},"encoding":{"y":{"field":"b","type":"quantitative","scale":{"domain":[-2,2],"nice":false,"zero":false},"axis":{"orient":"left","values":[-2,0,2],"format":"d","title":"High-frequency Filtered Air Pressure","titleAngle":270,"titleX":-59,"titleY":95.4,"titleAlign":"center","titleBaseline":"middle"}},"color":{"datum":"Roches Point","type":"nominal","scale":{"range":["#1f77b4"]},"legend":{"title":null}}}},
  {"data":{"name":"R"},"mark":{"type":"line","color":"#ff0000","strokeWidth":1.5},"encoding":{"y":{"field":"r","type":"quantitative","scale":{"domain":[1013.13,1020.7],"nice":false,"zero":false},"axis":{"orient":"right","values":[1015,1020],"format":"d","title":"Air Pressure (hPa)","titleAngle":270,"titleX":76,"titleY":95.4,"titleAlign":"center","titleBaseline":"middle"}}}}
 ],
 "resolve":{"scale":{"y":"independent"}}},
{"width":986,"height":112,
 "encoding":{"x":{"field":"t","type":"temporal","scale":{"type":"utc","domain":[{"year":2023,"month":6,"date":17,"hours":21,"minutes":53,"utc":true},{"year":2023,"month":6,"date":19,"hours":20,"minutes":7,"utc":true}]},"axis":{"labels":false,"title":null,"values":[{"year":2023,"month":6,"date":18,"hours":0,"utc":true},{"year":2023,"month":6,"date":18,"hours":6,"utc":true},{"year":2023,"month":6,"date":18,"hours":12,"utc":true},{"year":2023,"month":6,"date":18,"hours":18,"utc":true},{"year":2023,"month":6,"date":19,"hours":0,"utc":true},{"year":2023,"month":6,"date":19,"hours":6,"utc":true},{"year":2023,"month":6,"date":19,"hours":12,"utc":true},{"year":2023,"month":6,"date":19,"hours":18,"utc":true}]}}},
 "layer":[
  {"data":{"name":"shade"},"mark":{"type":"rect","color":"#00bfbf","opacity":0.11},"encoding":{"x2":{"field":"t2"}}},
  {"data":{"name":"M"},"mark":{"type":"line","strokeWidth":1.4},"encoding":{"y":{"field":"b","type":"quantitative","scale":{"domain":[-2,2],"nice":false,"zero":false},"axis":{"orient":"left","values":[-2,0,2],"format":"d","title":null}},"color":{"datum":"Moore Park","type":"nominal","scale":{"range":["#1f77b4"]},"legend":{"title":null}}}},
  {"data":{"name":"M"},"mark":{"type":"line","color":"#ff0000","strokeWidth":1.5},"encoding":{"y":{"field":"r","type":"quantitative","scale":{"domain":[1013.07,1019.62],"nice":false,"zero":false},"axis":{"orient":"right","values":[1015,1017.5],"format":".1f","title":null}}}}
 ],
 "resolve":{"scale":{"y":"independent"}}},
{"width":986,"height":112,
 "encoding":{"x":{"field":"t","type":"temporal","scale":{"type":"utc","domain":[{"year":2023,"month":6,"date":17,"hours":21,"minutes":53,"utc":true},{"year":2023,"month":6,"date":19,"hours":20,"minutes":7,"utc":true}]},"axis":{"labelExpr":"utcFormat(datum.value, '%m-%d %H')","title":"Date","titleX":500.5,"titleY":93,"titleAlign":"center","titleBaseline":"middle","values":[{"year":2023,"month":6,"date":18,"hours":0,"utc":true},{"year":2023,"month":6,"date":18,"hours":6,"utc":true},{"year":2023,"month":6,"date":18,"hours":12,"utc":true},{"year":2023,"month":6,"date":18,"hours":18,"utc":true},{"year":2023,"month":6,"date":19,"hours":0,"utc":true},{"year":2023,"month":6,"date":19,"hours":6,"utc":true},{"year":2023,"month":6,"date":19,"hours":12,"utc":true},{"year":2023,"month":6,"date":19,"hours":18,"utc":true}]}}},
 "layer":[
  {"data":{"name":"shade"},"mark":{"type":"rect","color":"#00bfbf","opacity":0.11},"encoding":{"x2":{"field":"t2"}}},
  {"data":{"name":"J"},"mark":{"type":"line","strokeWidth":1.4},"encoding":{"y":{"field":"b","type":"quantitative","scale":{"domain":[-2,2],"nice":false,"zero":false},"axis":{"orient":"left","values":[-2,0,2],"format":"d","title":null}},"color":{"datum":"Johnstown Castle","type":"nominal","scale":{"range":["#1f77b4"]},"legend":{"title":null}}}},
  {"data":{"name":"J"},"mark":{"type":"line","color":"#ff0000","strokeWidth":1.5},"encoding":{"y":{"field":"r","type":"quantitative","scale":{"domain":[1009.87,1017.34],"nice":false,"zero":false},"axis":{"orient":"right","values":[1010,1012.5,1015],"format":".1f","title":null}}}}
 ],
 "resolve":{"scale":{"y":"independent"}}}
]
}
